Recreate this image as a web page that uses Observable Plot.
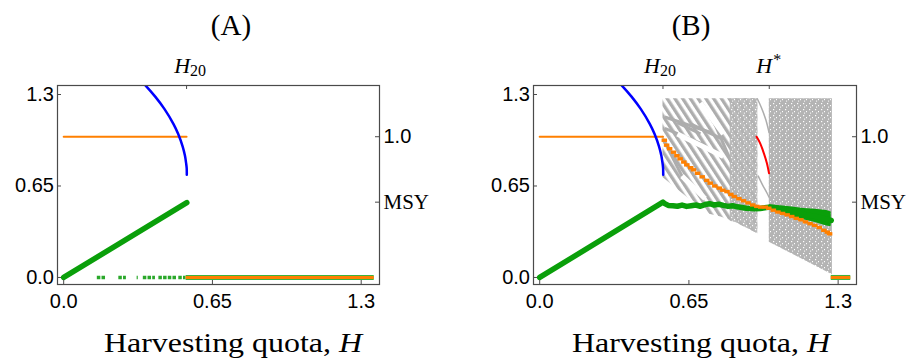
<!DOCTYPE html>
<html><head><meta charset="utf-8">
<script src="https://cdn.jsdelivr.net/npm/d3@7"></script>
<script src="https://cdn.jsdelivr.net/npm/@observablehq/plot@0.6"></script>
<style>
body{margin:0;background:#fff;}
#wrap{position:relative;width:909px;height:358px;overflow:hidden;background:#fff;}
#wrap svg{position:absolute;top:0;}
</style></head><body>
<svg width="0" height="0" style="position:absolute">
  <defs>
    <pattern id="hatch" width="6.5" height="7" patternUnits="userSpaceOnUse" patternTransform="rotate(-33)">
      <rect x="0" y="0" width="3.3" height="7" fill="#adadad"></rect>
    </pattern>
    <pattern id="speckle" width="6" height="6" patternUnits="userSpaceOnUse">
      <rect x="0" y="0" width="6" height="6" fill="#b4b4b4"></rect>
      <rect x="1" y="1" width="1.2" height="1.2" fill="#ffffff"></rect>
      <rect x="4" y="3" width="1" height="1.2" fill="#ffffff"></rect>
      <rect x="2" y="4.6" width="1.1" height="1" fill="#ffffff"></rect>
    </pattern>
  </defs>
</svg>
<div id="wrap"></div>
<script>
// ---------- data ----------
const xTicks = [0, 0.65, 1.3];
const xTickLabels = ["0.0", "0.65", "1.3"];
const yTicks = [0, 0.65, 1.3];
const yTickLabels = ["0.0", "0.65", "1.3"];
const H20 = 0.537;
const Hstar = 1.0;
const MSY = 0.535;
const rightTicks = [1.0, MSY];
const rightTickLabels = ["1.0", "MSY"];
const panelTitles = ["(A)", "(B)"];
const xLabelText = "Harvesting quota, ";
const xLabelVar = "H";

// blue branch (upper equilibrium)
const blueH = [0.30, 0.33, 0.36, 0.40, 0.44, 0.48, 0.50, 0.52, 0.53, 0.535, 0.5375, 0.538];
const blueY = [1.46, 1.41, 1.36, 1.285, 1.198, 1.09, 1.021, 0.93, 0.864, 0.812, 0.777, 0.73];

// orange flat segment at 1.0
const orangeFlatH = [0, 0.537];
const orangeFlatY = [1.0, 1.0];

// panel A green line
const greenAH = [0, 0.538];
const greenAY = [0, 0.532];
// panel A green dots at zero
const greenZeroStart = [0.147, 0.241, 0.321, 0.348, 0.416, 0.503];
const greenZeroEnd   = [0.188, 0.274, 0.326, 0.401, 0.496, 0.534];
// zero (collapse) band
const zeroBandA = [0.535, 1.357];
const zeroBandB = [1.27, 1.355];

// panel B green
const greenBH = [0, 0.537, 0.545, 0.56, 0.58, 0.60, 0.62, 0.64, 0.66, 0.68, 0.70, 0.72, 0.74, 0.76, 0.78, 0.80, 0.82, 0.84, 0.86, 0.88, 0.90, 0.92, 0.94, 0.96, 0.98, 1.0, 1.02, 1.04, 1.06, 1.08, 1.10, 1.12, 1.14, 1.16, 1.18, 1.20, 1.22, 1.24, 1.26, 1.27];
const greenBY = [0, 0.535, 0.525, 0.512, 0.51, 0.506, 0.514, 0.505, 0.51, 0.515, 0.506, 0.518, 0.524, 0.515, 0.52, 0.512, 0.505, 0.51, 0.502, 0.497, 0.492, 0.49, 0.488, 0.49, 0.495, 0.50, 0.497, 0.49, 0.486, 0.472, 0.466, 0.458, 0.452, 0.447, 0.438, 0.434, 0.426, 0.418, 0.41, 0.405];
const greenBandH  = [1.0, 1.05, 1.10, 1.15, 1.20, 1.25, 1.27];
const greenBandLo = [0.48, 0.46, 0.43, 0.41, 0.39, 0.365, 0.36];
const greenBandHi = [0.515, 0.51, 0.50, 0.49, 0.485, 0.475, 0.465];

// panel B orange staircase
const orangeBH = [0.545, 0.555, 0.568, 0.585, 0.60, 0.614, 0.63, 0.643, 0.66, 0.672, 0.69, 0.71, 0.73, 0.745, 0.765, 0.785, 0.80, 0.818, 0.835, 0.85, 0.87, 0.89, 0.91, 0.93, 0.948, 0.965, 0.985, 1.0, 1.02, 1.04, 1.06, 1.08, 1.10, 1.12, 1.14, 1.16, 1.18, 1.20, 1.22, 1.24, 1.255, 1.265];
const orangeBY = [0.975, 0.94, 0.915, 0.89, 0.865, 0.843, 0.82, 0.80, 0.78, 0.765, 0.74, 0.715, 0.69, 0.67, 0.65, 0.635, 0.62, 0.61, 0.59, 0.575, 0.56, 0.545, 0.53, 0.515, 0.505, 0.50, 0.50, 0.492, 0.478, 0.465, 0.455, 0.445, 0.433, 0.42, 0.41, 0.395, 0.382, 0.37, 0.355, 0.335, 0.322, 0.31];

// red branch near H*
const redH = [0.945, 0.96, 0.977, 0.99, 0.999];
const redY = [1.0, 0.955, 0.88, 0.81, 0.74];

// thin grey branches in the window
const grayArc1H = [0.948, 0.965, 0.985, 0.999];
const grayArc1Y = [1.27, 1.21, 1.12, 1.03];
const grayArc2H = [0.952, 0.97, 0.99, 0.999];
const grayArc2Y = [0.72, 0.66, 0.60, 0.57];

// grey attractor clouds
const grayTop = 1.27;
const grayLeftH  = [0.537, 0.59, 0.65, 0.69, 0.74, 0.79, 0.854, 0.95];
const grayLeftLo = [0.71, 0.64, 0.56, 0.52, 0.45, 0.43, 0.39, 0.31];
const grayDenseH  = [0.83, 0.854, 0.95];
const grayDenseLo = [0.40, 0.39, 0.31];
const grayRightH  = [1.0, 1.275];
const grayRightLo = [0.25, 0.02];
const stripeH1 = [0.545, 0.545, 0.545, 0.60, 0.66, 0.76];
const stripeY1 = [1.14, 1.06, 0.96, 1.10, 1.09, 1.10];
const stripeH2 = [0.745, 0.72, 0.62, 0.70, 0.80, 0.84];
const stripeY2 = [1.03, 0.94, 0.72, 1.02, 0.98, 0.80];
// white gaps in the left cloud
const gapH1 = [0.60, 0.70, 0.62];
const gapY1 = [1.02, 1.24, 0.72];
const gapH2 = [0.80, 0.80, 0.72];
const gapY2 = [0.86, 1.02, 0.56];

// ---------- helpers ----------
const pts = (hs, ys) => hs.map((h, i) => ({H: h, y: ys[i]}));
const COL = {blue: "#0000ff", orange: "#ff8000", green: "#0a9f0a", red: "#ff0000", gray: "#adadad", frame: "#4a4a4a"};
const SANS = "Liberation Sans, Arial, sans-serif";
const SERIF = "Liberation Serif, Times New Roman, serif";

function makePanel(cfg) {
  const H = 358, mt = 85, mb = 74;
  const FW = cfg.width - cfg.ml - cfg.mr, FH = H - mt - mb;
  const marks = [];
  marks.push(...(cfg.back || []));
  marks.push(
    Plot.line(pts(orangeFlatH, orangeFlatY), {x: "H", y: "y", stroke: COL.orange, strokeWidth: 2}),
    Plot.line(pts(blueH, blueY), {x: "H", y: "y", stroke: COL.blue, strokeWidth: 2.5, curve: "catmull-rom", clip: true})
  );
  marks.push(...cfg.front);
  marks.push(
    Plot.tickY(yTicks, {y: d => d, insetRight: FW - 4, stroke: COL.frame}),
    Plot.tickY(rightTicks, {y: d => d, insetLeft: FW - 4, stroke: COL.frame}),
    Plot.tickX(xTicks, {x: d => d, insetTop: FH - 4, stroke: COL.frame}),
    Plot.tickX(cfg.topTicks, {x: d => d, insetBottom: FH - 4, stroke: COL.frame}),
    Plot.frame({stroke: COL.frame, strokeWidth: 1.2}),
    Plot.axisX(xTicks, {anchor: "bottom", tickSize: 0, tickPadding: 9, label: null,
      tickFormat: d => xTickLabels[xTicks.indexOf(d)], fontSize: 20, fontFamily: SANS}),
    Plot.axisY(yTicks, {anchor: "left", tickSize: 0, tickPadding: 3.5, label: null,
      tickFormat: d => yTickLabels[yTicks.indexOf(d)], fontSize: 20, fontFamily: SANS}),
    Plot.axisY([rightTicks[0]], {anchor: "right", tickSize: 0, tickPadding: 4, label: null,
      tickFormat: () => rightTickLabels[0], fontSize: 20, fontFamily: SANS}),
    Plot.axisY([rightTicks[1]], {anchor: "right", tickSize: 0, tickPadding: 4, label: null,
      tickFormat: () => rightTickLabels[1], fontSize: 21, fontFamily: SERIF})
  );
  const svg = Plot.plot({
    width: cfg.width, height: H,
    marginLeft: cfg.ml, marginRight: cfg.mr, marginTop: mt, marginBottom: mb,
    x: {domain: [-0.027, 1.38]},
    y: {domain: [-0.05, 1.364]},
    style: {background: "transparent", color: "black", overflow: "visible"},
    marks
  });
  svg.style.left = cfg.left + "px";
  const xs = svg.scale("x");
  const s = d3.select(svg);
  s.append("text").attr("x", cfg.titleX).attr("y", 35).attr("text-anchor", "middle")
    .attr("font-family", SERIF).attr("font-size", 29).attr("fill", "black").text(cfg.title);
  const xl = s.append("text").attr("x", cfg.xlabX).attr("y", 352).attr("text-anchor", "middle")
    .attr("font-family", SERIF).attr("font-size", 27).attr("fill", "black")
    .attr("textLength", 258).attr("lengthAdjust", "spacingAndGlyphs");
  xl.append("tspan").text(xLabelText);
  xl.append("tspan").attr("font-style", "italic").text(xLabelVar);
  cfg.topLabels.forEach(t => {
    const tx = s.append("text").attr("x", xs.apply(t.value) + t.dx).attr("y", 73)
      .attr("text-anchor", "middle").attr("font-family", SERIF).attr("font-size", 22).attr("fill", "black");
    tx.append("tspan").attr("font-style", "italic").text("H");
    if (t.sub) tx.append("tspan").attr("font-size", 16).attr("dy", 3).text(t.sub);
    if (t.sup) tx.append("tspan").attr("font-size", 16).attr("dy", -8).attr("dx", 1).text(t.sup);
  });
  document.getElementById("wrap").appendChild(svg);
}

// ---------- panel A ----------
makePanel({
  width: 454, left: 0, ml: 57, mr: 75,
  title: panelTitles[0], titleX: 231, xlabX: 233,
  topTicks: [H20],
  topLabels: [{value: H20, sub: "20", dx: 4}],
  front: [
    Plot.line(pts(greenAH, greenAY), {x: "H", y: "y", stroke: COL.green, strokeWidth: 5.5}),
    Plot.ruleY(greenZeroStart.map((a, i) => ({a, b: greenZeroEnd[i]})), {y: 0, x1: "a", x2: "b", stroke: "#2aa82a", strokeWidth: 3.5, strokeDasharray: "3.5,1.2"}),
    Plot.ruleY([zeroBandA], {y: 0, x1: d => d[0], x2: d => d[1], stroke: "#3cb33c", strokeWidth: 5}),
    Plot.ruleY([zeroBandA], {y: 0, x1: d => d[0], x2: d => d[1], stroke: COL.orange, strokeWidth: 3})
  ]
});

// ---------- panel B ----------
const stripes = stripeH1.map((h, i) => ({x1: h, y1: stripeY1[i], x2: stripeH2[i], y2: stripeY2[i]}));
const gaps = gapH1.map((h, i) => ({x1: h, y1: gapY1[i], x2: gapH2[i], y2: gapY2[i]}));
makePanel({
  width: 455, left: 454, ml: 79, mr: 53,
  title: panelTitles[1], titleX: 237, xlabX: 247,
  topTicks: [H20, Hstar],
  topLabels: [{value: H20, sub: "20", dx: -2.5}, {value: Hstar, sup: "*", dx: 0}],
  back: [
    Plot.areaY(grayLeftH.map((h, i) => ({H: h, lo: grayLeftLo[i]})), {x: "H", y1: "lo", y2: grayTop, fill: "url(#hatch)"}),
    Plot.link(stripes, {x1: "x1", y1: "y1", x2: "x2", y2: "y2", stroke: COL.gray, strokeWidth: 3}),
    Plot.link(gaps, {x1: "x1", y1: "y1", x2: "x2", y2: "y2", stroke: "white", strokeWidth: 5}),
    Plot.areaY(grayDenseH.map((h, i) => ({H: h, lo: grayDenseLo[i]})), {x: "H", y1: "lo", y2: grayTop, fill: "url(#speckle)", fillOpacity: 0.9}),
    Plot.areaY(grayRightH.map((h, i) => ({H: h, lo: grayRightLo[i]})), {x: "H", y1: "lo", y2: grayTop, fill: "url(#speckle)"}),
    Plot.line(pts(grayArc1H, grayArc1Y), {x: "H", y: "y", stroke: COL.gray, strokeWidth: 1.5, curve: "catmull-rom"}),
    Plot.line(pts(grayArc2H, grayArc2Y), {x: "H", y: "y", stroke: COL.gray, strokeWidth: 1.5, curve: "catmull-rom"})
  ],
  front: [
    Plot.areaY(greenBandH.map((h, i) => ({H: h, lo: greenBandLo[i], hi: greenBandHi[i]})), {x: "H", y1: "lo", y2: "hi", fill: COL.green}),
    Plot.line(pts(greenBH, greenBY), {x: "H", y: "y", stroke: COL.green, strokeWidth: 5.5}),
    Plot.ruleY(pts(orangeBH, orangeBY), {y: "y", x1: d => d.H - 0.012, x2: d => d.H + 0.012, stroke: COL.orange, strokeWidth: 3.4}),
    Plot.line(pts(redH, redY), {x: "H", y: "y", stroke: COL.red, strokeWidth: 2, curve: "catmull-rom"}),
    Plot.ruleY([zeroBandB], {y: 0, x1: d => d[0], x2: d => d[1], stroke: "#3cb33c", strokeWidth: 5}),
    Plot.ruleY([zeroBandB], {y: 0, x1: d => d[0], x2: d => d[1], stroke: COL.orange, strokeWidth: 3})
  ]
});
</script></body></html>
